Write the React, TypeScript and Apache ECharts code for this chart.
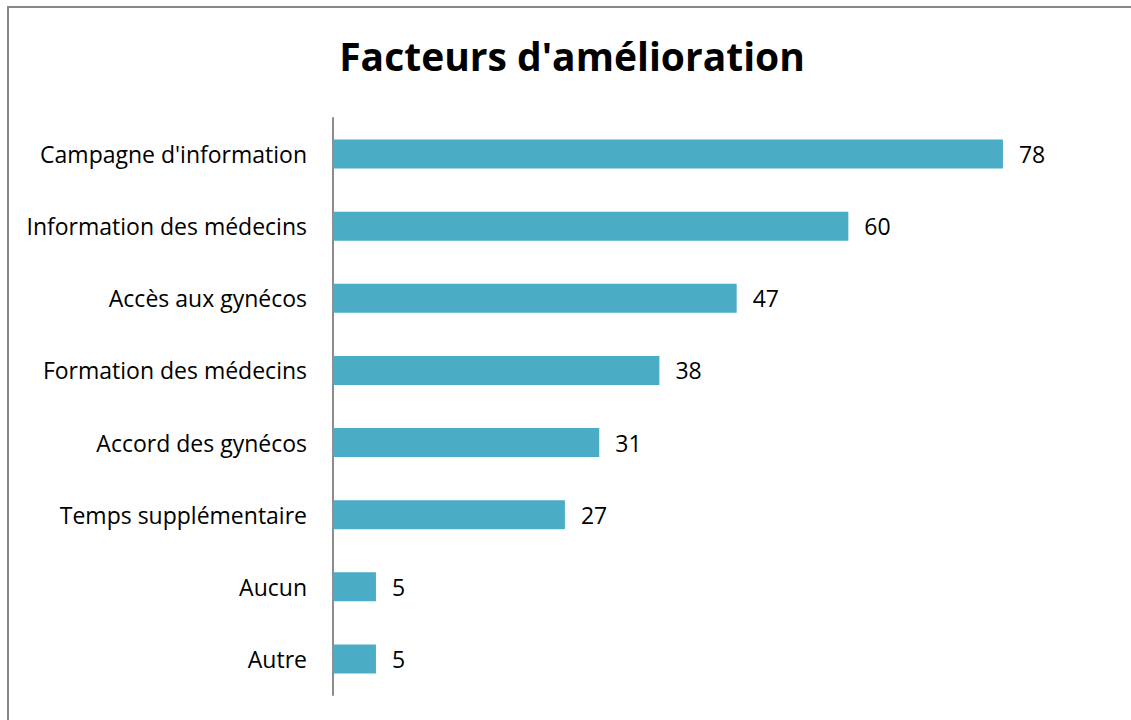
import React, { useEffect, useRef } from "react";
import * as echarts from "echarts";

const titleText = "Facteurs d'amélioration";
const categories = [
  "Campagne d'information",
  "Information des médecins",
  "Accès aux gynécos",
  "Formation des médecins",
  "Accord des gynécos",
  "Temps supplémentaire",
  "Aucun",
  "Autre",
];
const values = [78, 60, 47, 38, 31, 27, 5, 5];

export default function App() {
  const ref = useRef<HTMLDivElement>(null);
  useEffect(() => {
    if (!ref.current) return;
    const chart = echarts.init(ref.current, null, { renderer: "svg" });
    chart.setOption({
      animation: false,
      backgroundColor: "#ffffff",
      textStyle: { fontFamily: "'Open Sans', sans-serif" },
      title: {
        text: titleText,
        left: 567,
        top: 31,
        textAlign: "center",
        textStyle: {
          fontFamily: "'Open Sans', sans-serif",
          fontSize: 39,
          fontWeight: "bold",
          color: "#000000",
        },
      },
      graphic: [
        {
          type: "rect",
          shape: { x: 8, y: 7, width: 1200, height: 800 },
          style: { fill: "none", stroke: "#888888", lineWidth: 2 },
          silent: true,
        },
      ],
      grid: { left: 333, top: 118, width: 773, height: 577, containLabel: false },
      xAxis: {
        type: "value",
        min: 0,
        max: 90,
        show: false,
        splitLine: { show: false },
      },
      yAxis: {
        type: "category",
        data: categories,
        inverse: true,
        axisLine: { show: true, lineStyle: { color: "#8c8c8c", width: 2 } },
        axisTick: { show: false },
        axisLabel: {
          margin: 26,
          fontSize: 23,
          color: "#000000",
          fontFamily: "'Open Sans', sans-serif",
        },
      },
      series: [
        {
          type: "bar",
          data: values,
          barWidth: 29,
          itemStyle: { color: "#4BACC6" },
          label: {
            show: true,
            position: "right",
            distance: 16,
            fontSize: 23,
            color: "#000000",
            fontFamily: "'Open Sans', sans-serif",
          },
        },
      ],
    });
    return () => chart.dispose();
  }, []);
  return (
    <div
      ref={ref}
      style={{ position: "fixed", left: 0, top: 0, width: 1131, height: 720 }}
    />
  );
}
